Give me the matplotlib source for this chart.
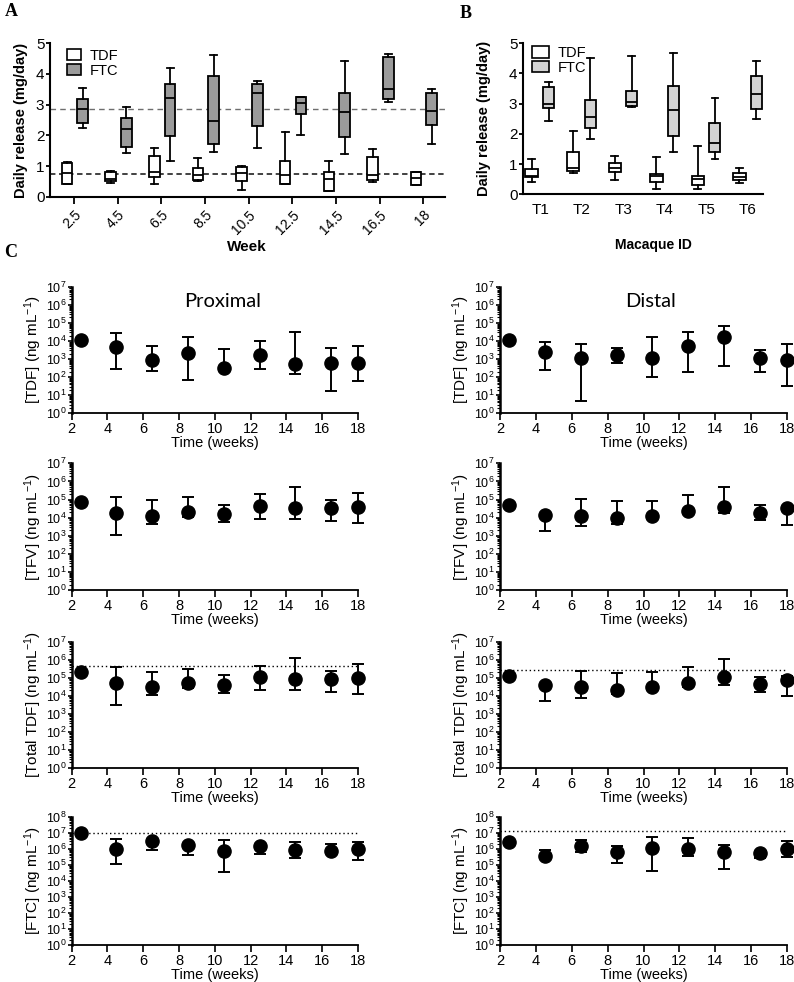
import numpy as np
import matplotlib.pyplot as plt
from matplotlib.patches import Patch
from matplotlib.ticker import LogLocator, NullFormatter

plt.rcParams['font.family'] = ['Liberation Sans', 'DejaVu Sans']
plt.rcParams['mathtext.fontset'] = 'custom'
plt.rcParams['mathtext.rm'] = 'Liberation Sans'
plt.rcParams['mathtext.it'] = 'Liberation Sans:italic'
plt.rcParams['mathtext.bf'] = 'Liberation Sans:bold'

# -------------------
# Panel A: daily release per week (box = min / q1 / median / q3 / max)
# -------------------
weeks = ['2.5', '4.5', '6.5', '8.5', '10.5', '12.5', '14.5', '16.5', '18']
tdf_min = [0.40, 0.44, 0.43, 0.51, 0.22, 0.41, 0.18, 0.48, 0.38]
tdf_q1 = [0.41, 0.50, 0.63, 0.54, 0.52, 0.41, 0.18, 0.54, 0.38]
tdf_med = [0.76, 0.58, 0.79, 0.70, 0.76, 0.70, 0.57, 0.71, 0.61]
tdf_q3 = [1.11, 0.79, 1.34, 0.95, 0.96, 1.17, 0.81, 1.30, 0.80]
tdf_max = [1.12, 0.83, 1.60, 1.27, 1.01, 2.10, 1.16, 1.54, 0.81]
ftc_min = [2.25, 1.41, 1.16, 1.45, 1.60, 2.01, 1.39, 3.09, 1.71]
ftc_q1 = [2.41, 1.63, 1.97, 1.71, 2.31, 2.70, 1.93, 3.17, 2.33]
ftc_med = [2.85, 2.22, 3.23, 2.48, 3.37, 3.04, 2.77, 3.51, 2.79]
ftc_q3 = [3.18, 2.57, 3.68, 3.93, 3.67, 3.26, 3.37, 4.56, 3.37]
ftc_max = [3.53, 2.91, 4.18, 4.61, 3.77, 3.26, 4.43, 4.65, 3.50]
tdf_mean_line = 0.74
ftc_mean_line = 2.87

# -------------------
# Panel B: daily release per macaque
# -------------------
macaques = ['T1', 'T2', 'T3', 'T4', 'T5', 'T6']
b_tdf_min = [0.42, 0.72, 0.47, 0.18, 0.18, 0.36]
b_tdf_q1 = [0.56, 0.78, 0.75, 0.40, 0.31, 0.46]
b_tdf_med = [0.62, 0.86, 0.86, 0.62, 0.51, 0.58]
b_tdf_q3 = [0.84, 1.39, 1.05, 0.67, 0.62, 0.70]
b_tdf_max = [1.17, 2.10, 1.27, 1.25, 1.60, 0.88]
b_ftc_min = [2.44, 1.84, 2.90, 1.41, 1.16, 2.50]
b_ftc_q1 = [2.85, 2.19, 2.94, 1.94, 1.41, 2.83]
b_ftc_med = [2.99, 2.55, 3.07, 2.79, 1.69, 3.31]
b_ftc_q3 = [3.54, 3.12, 3.43, 3.59, 2.35, 3.93]
b_ftc_max = [3.73, 4.50, 4.59, 4.67, 3.18, 4.41]

# -------------------
# Panel C: concentrations (mean, lower and upper error bar ends; None = no bar)
# -------------------
times = [2.5, 4.5, 6.5, 8.5, 10.5, 12.5, 14.5, 16.5, 18]

prox_tdf = [1.2e4, 4.8e3, 9.0e2, 2.2e3, 3.3e2, 1.7e3, 5.1e2, 5.8e2, 5.8e2]
prox_tdf_lo = [None, 2.8e2, 2.3e2, 7.0e1, None, 2.8e2, 1.5e2, 1.8e1, 6.2e1]
prox_tdf_hi = [None, 2.6e4, 5.5e3, 1.7e4, 3.5e3, 1.0e4, 3.0e4, 3.9e3, 5.2e3]
dist_tdf = [1.2e4, 2.6e3, 1.1e3, 1.7e3, 1.1e3, 5.2e3, 1.7e4, 1.2e3, 9.3e2]
dist_tdf_lo = [None, 2.6e2, 5.0e0, 5.8e2, 9.8e1, 2.0e2, 4.3e2, 1.9e2, 3.1e1]
dist_tdf_hi = [None, 8.3e3, 6.8e3, 4.1e3, 1.6e4, 3.0e4, 6.6e4, 3.2e3, 6.8e3]

prox_tfv = [7.6e4, 1.9e4, 1.2e4, 2.1e4, 1.6e4, 4.6e4, 3.2e4, 3.2e4, 3.7e4]
prox_tfv_lo = [None, 1.1e3, 4.3e3, 1.1e4, 6.0e3, 8.7e3, 8.3e3, 6.5e3, 5.2e3]
prox_tfv_hi = [None, 1.4e5, 8.9e4, 1.3e5, 5.1e4, 1.9e5, 5.1e5, 8.9e4, 2.2e5]
dist_tfv = [5.2e4, 1.4e4, 1.2e4, 9.1e3, 1.3e4, 2.4e4, 3.7e4, 1.8e4, 3.2e4]
dist_tfv_lo = [None, 1.9e3, 3.5e3, 4.5e3, None, None, 1.7e4, 7.4e3, 4.1e3]
dist_tfv_hi = [None, None, 1.1e5, 8.3e4, 8.7e4, 1.7e5, 4.7e5, 4.8e4, None]

prox_total = [2.0e5, 5.2e4, 3.2e4, 5.2e4, 3.9e4, 1.1e5, 8.1e4, 8.1e4, 1.0e5]
prox_total_lo = [None, 3.0e3, 1.1e4, 2.8e4, 1.5e4, 2.2e4, 2.0e4, 1.7e4, 1.2e4]
prox_total_hi = [None, 3.7e5, 2.1e5, 3.0e5, 1.4e5, 4.7e5, 1.3e6, 2.3e5, 5.5e5]
dist_total = [1.2e5, 3.7e4, 2.9e4, 2.1e4, 2.9e4, 5.0e4, 1.1e5, 4.3e4, 7.1e4]
dist_total_lo = [None, 5.0e3, 7.8e3, 1.3e4, None, 2.9e4, 3.9e4, 1.7e4, 9.5e3]
dist_total_hi = [None, None, 2.5e5, 1.8e5, 2.0e5, 3.9e5, 1.1e6, 1.1e5, 1.2e5]

prox_ftc = [1.0e7, 9.8e5, 3.1e6, 1.7e6, 7.2e5, 1.5e6, 8.5e5, 7.2e5, 1.0e6]
prox_ftc_lo = [None, 1.1e5, 7.9e5, 3.9e5, 3.7e4, 4.8e5, 2.6e5, None, 2.1e5]
prox_ftc_hi = [None, 4.3e6, None, None, 3.7e6, None, 2.8e6, 2.0e6, 2.8e6]
dist_ftc = [2.5e6, 3.7e5, 1.5e6, 6.0e5, 1.2e6, 1.0e6, 6.6e5, 5.8e5, 1.0e6]
dist_ftc_lo = [None, None, 6.6e5, 1.3e5, 4.4e4, 3.5e5, 5.5e4, 2.6e5, 3.2e5]
dist_ftc_hi = [None, 8.5e5, 3.7e6, 1.4e6, 5.8e6, 4.9e6, 1.8e6, None, 3.2e6]

prox_total_line = 4.6e5
dist_total_line = 2.7e5
prox_ftc_line = 1.0e7
dist_ftc_line = 1.23e7

W, H = 794, 982


def rect(l, t, r, b):
    # pixel box -> figure fraction
    return [l / W, 1 - b / H, (r - l) / W, (b - t) / H]


def box_stats(lo, q1, med, q3, hi):
    return [dict(whislo=a, q1=b, med=c, q3=d, whishi=e, fliers=[])
            for a, b, c, d, e in zip(lo, q1, med, q3, hi)]


def draw_boxes(ax, stats, pos, width, face):
    ax.bxp(stats, positions=pos, widths=width, capwidths=0.16, patch_artist=True,
           showfliers=False,
           boxprops=dict(facecolor=face, edgecolor='k', linewidth=1.3),
           medianprops=dict(color='k', linewidth=1.3),
           whiskerprops=dict(color='k', linewidth=1.3),
           capprops=dict(color='k', linewidth=1.3))


def style_release(ax, pad):
    for s in ['top', 'right']:
        ax.spines[s].set_visible(False)
    ax.spines['left'].set_linewidth(1.5)
    ax.spines['bottom'].set_linewidth(1.5)
    ax.set_ylim(0, 5)
    ax.set_yticks([0, 1, 2, 3, 4, 5])
    ax.tick_params(axis='both', direction='out', width=1.3, labelsize=11)
    ax.tick_params(axis='y', length=3, pad=1)
    ax.tick_params(axis='x', length=5)
    ax.set_ylabel('Daily release (mg/day)', fontsize=10.5, fontweight='bold', labelpad=pad)


fig = plt.figure(figsize=(7.94, 9.82), dpi=100)

# ---------- A ----------
axA = fig.add_axes(rect(50, 43.3, 445, 196.7))
xa = np.arange(len(weeks))
draw_boxes(axA, box_stats(tdf_min, tdf_q1, tdf_med, tdf_q3, tdf_max), xa - 0.16, 0.24, 'white')
draw_boxes(axA, box_stats(ftc_min, ftc_q1, ftc_med, ftc_q3, ftc_max), xa + 0.2, 0.25, '#9b9b9b')
axA.axhline(ftc_mean_line, color='#6e6e6e', lw=1.0, dashes=(4, 3), zorder=0)
axA.axhline(tdf_mean_line, color='#333333', lw=1.3, dashes=(3, 2), zorder=0)
axA.set_xlim(-0.55, 8.5)
axA.set_xticks(xa)
axA.set_xticklabels(weeks, rotation=45, ha='right', va='top', rotation_mode='anchor')
style_release(axA, 6)
axA.tick_params(axis='x', labelsize=10, pad=3)
axA.legend(handles=[Patch(facecolor='white', edgecolor='k', lw=1.2, label='TDF'),
                    Patch(facecolor='#9b9b9b', edgecolor='k', lw=1.2, label='FTC')],
           loc='upper left', bbox_to_anchor=(0.02, 1.02), frameon=False, fontsize=10.5,
           handlelength=1.0, handleheight=0.8, labelspacing=0.05, handletextpad=0.6,
           borderaxespad=0.2)
fig.text(247 / W, 1 - 247 / H, 'Week', ha='center', va='center', fontsize=11, fontweight='bold')

# ---------- B ----------
axB = fig.add_axes(rect(523, 43.3, 763, 194.3))
xb = np.arange(len(macaques))
draw_boxes(axB, box_stats(b_tdf_min, b_tdf_q1, b_tdf_med, b_tdf_q3, b_tdf_max), xb - 0.21, 0.3, 'white')
draw_boxes(axB, box_stats(b_ftc_min, b_ftc_q1, b_ftc_med, b_ftc_q3, b_ftc_max), xb + 0.2, 0.27, '#d3d3d3')
axB.set_xlim(-0.42, 5.36)
axB.set_xticks(xb)
axB.set_xticklabels(macaques)
style_release(axB, 13)
axB.tick_params(axis='x', length=0, pad=6)
axB.legend(handles=[Patch(facecolor='white', edgecolor='k', lw=1.2, label='TDF'),
                    Patch(facecolor='#d3d3d3', edgecolor='k', lw=1.2, label='FTC')],
           loc='upper left', bbox_to_anchor=(0.0, 1.04), frameon=False, fontsize=10.5,
           handlelength=1.2, handleheight=0.8, labelspacing=0.05, handletextpad=0.6,
           borderaxespad=0.2)
fig.text(653 / W, 1 - 245 / H, 'Macaque ID', ha='center', va='center', fontsize=10,
         fontweight='bold')

# ---------- C ----------
row_px = [(286.7, 413.3), (463.3, 590), (641.7, 767.7), (816.7, 945)]
col_px = [(71.7, 358), (500, 787)]


def conc_panel(ax, mean, lo, hi, ylabel, top, line=None):
    m = np.array(mean, dtype=float)
    l = np.array(lo, dtype=float)
    h = np.array(hi, dtype=float)
    err = [np.nan_to_num(m - l), np.nan_to_num(h - m)]
    ax.errorbar(times, m, yerr=err, fmt='o', color='k', ms=9.5, capsize=4.5,
                elinewidth=1.4, capthick=1.4, clip_on=False, zorder=3)
    if line is not None:
        ax.axhline(line, color='k', lw=1.0, ls=(0, (1, 2)), zorder=1)
    ax.set_yscale('log')
    ax.set_ylim(1, top)
    ax.set_xlim(2, 18)
    ax.set_xticks(np.arange(2, 19, 2))
    ax.yaxis.set_major_locator(LogLocator(base=10, numticks=20))
    ax.yaxis.set_minor_locator(LogLocator(base=10, subs=np.arange(2, 10), numticks=20))
    ax.yaxis.set_minor_formatter(NullFormatter())
    for s in ['top', 'right']:
        ax.spines[s].set_visible(False)
    ax.spines['left'].set_linewidth(1.8)
    ax.spines['bottom'].set_linewidth(1.3)
    ax.tick_params(axis='x', direction='out', length=5, width=1.2, labelsize=10.5, pad=1.5)
    ax.tick_params(axis='y', which='major', direction='out', length=3, width=1.2,
                   labelsize=9, pad=1)
    ax.tick_params(axis='y', which='minor', direction='out', length=2, width=0.8)
    ax.set_xlabel('Time (weeks)', fontsize=10.5, labelpad=0)
    ax.set_ylabel(ylabel, fontsize=11, labelpad=1)


panels = [
    (prox_tdf, prox_tdf_lo, prox_tdf_hi, dist_tdf, dist_tdf_lo, dist_tdf_hi,
     r'[TDF] (ng mL$^{-1}$)', 1e7, None, None),
    (prox_tfv, prox_tfv_lo, prox_tfv_hi, dist_tfv, dist_tfv_lo, dist_tfv_hi,
     r'[TFV] (ng mL$^{-1}$)', 1e7, None, None),
    (prox_total, prox_total_lo, prox_total_hi, dist_total, dist_total_lo, dist_total_hi,
     r'[Total TDF] (ng mL$^{-1}$)', 1e7, prox_total_line, dist_total_line),
    (prox_ftc, prox_ftc_lo, prox_ftc_hi, dist_ftc, dist_ftc_lo, dist_ftc_hi,
     r'[FTC] (ng mL$^{-1}$)', 1e8, prox_ftc_line, dist_ftc_line),
]

for i, (pm, pl, ph, dm, dl, dh, lab, top, pline, dline) in enumerate(panels):
    t, b = row_px[i]
    axp = fig.add_axes(rect(col_px[0][0], t, col_px[0][1], b))
    conc_panel(axp, pm, pl, ph, lab, top, pline)
    axd = fig.add_axes(rect(col_px[1][0], t, col_px[1][1], b))
    conc_panel(axd, dm, dl, dh, lab, top, dline)
    if i == 0:
        axp.text(0.528, 0.88, 'Proximal', transform=axp.transAxes, ha='center',
                 va='center', fontsize=14.5, family=['Lato', 'DejaVu Sans'])
        axd.text(0.523, 0.88, 'Distal', transform=axd.transAxes, ha='center',
                 va='center', fontsize=14.5, family=['Lato', 'DejaVu Sans'])

# panel letters
for txt, x, y in [('A', 11, 12), ('B', 466, 14), ('C', 11, 252)]:
    fig.text(x / W, 1 - y / H, txt, ha='center', va='center', fontsize=13,
             fontweight='bold', family=['Liberation Serif', 'DejaVu Serif'])

fig.savefig('out.png', dpi=100)
